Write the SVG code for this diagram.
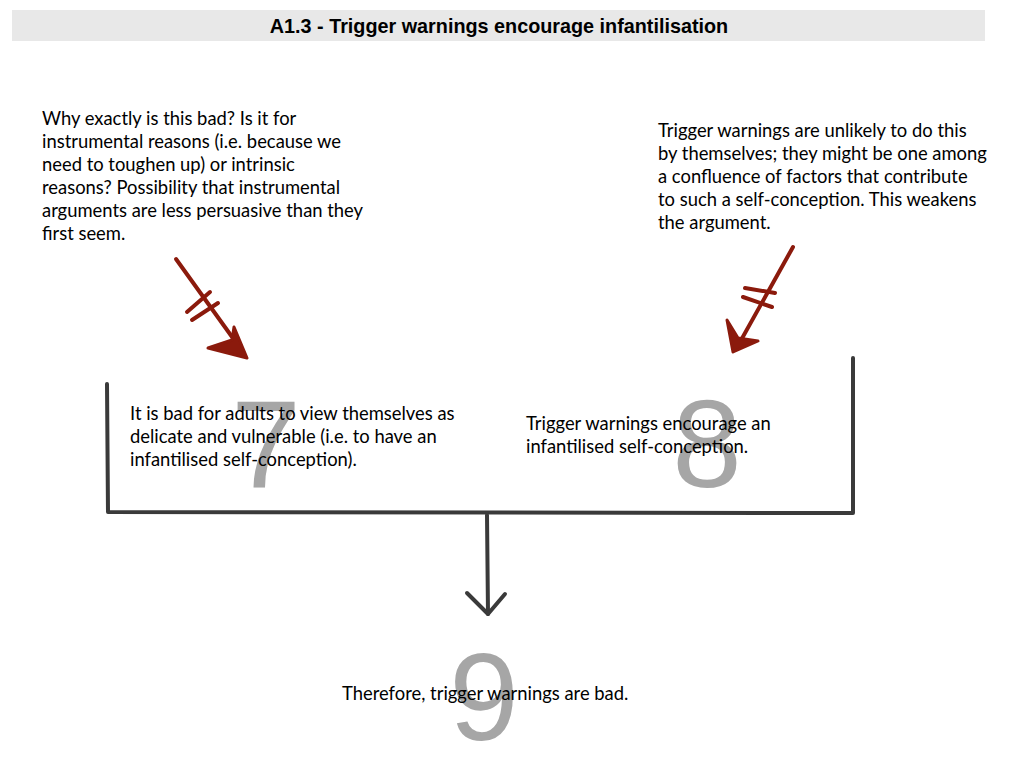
<svg xmlns="http://www.w3.org/2000/svg" width="1024" height="768" viewBox="0 0 1024 768">
<defs>
<style>
.t{font-family:"Lato","Open Sans",sans-serif;font-size:18.4px;fill:#000}
.n{font-family:"Liberation Sans",Arial,sans-serif;font-size:125px;fill:#a6a6a6;text-anchor:middle}
.r{stroke:#8b1a0c;stroke-width:4;fill:none;stroke-linecap:round;stroke-linejoin:round}
.rf{stroke:#8b1a0c;stroke-width:3;fill:#8b1a0c;stroke-linejoin:round}
.k{stroke:#3a3a3a;stroke-width:4;fill:none;stroke-linecap:round;stroke-linejoin:round}
</style>
</defs>
<rect width="1024" height="768" fill="#fff"/>
<g id="title">
<rect x="12" y="10" width="973" height="31" fill="#e8e8e8"/>
<text x="499" y="33" text-anchor="middle" style="font-family:'Liberation Sans',Arial,sans-serif;font-size:19.8px;font-weight:bold">A1.3 - Trigger warnings encourage infantilisation</text>
</g>
<g id="objection1">
<text class="t"><tspan x="42" y="125">Why exactly is this bad? Is it for</tspan><tspan x="42" y="148">instrumental reasons (i.e. because we</tspan><tspan x="42" y="171">need to toughen up) or intrinsic</tspan><tspan x="42" y="194">reasons? Possibility that instrumental</tspan><tspan x="42" y="217">arguments are less persuasive than they</tspan><tspan x="42" y="240">first seem.</tspan></text>
</g>
<g id="objection2">
<text class="t"><tspan x="658" y="137">Trigger warnings are unlikely to do this</tspan><tspan x="658" y="160">by themselves; they might be one among</tspan><tspan x="658" y="183">a confluence of factors that contribute</tspan><tspan x="658" y="206">to such a self-conception. This weakens</tspan><tspan x="658" y="229">the argument.</tspan></text>
</g>
<g id="p7">
<text class="n" x="266" y="487">7</text>
<text class="t"><tspan x="130" y="420">It is bad for adults to view themselves as</tspan><tspan x="130" y="443">delicate and vulnerable (i.e. to have an</tspan><tspan x="130" y="466">infantilised self-conception).</tspan></text>
</g>
<g id="p8">
<text class="n" x="707" y="487">8</text>
<text class="t"><tspan x="526" y="430">Trigger warnings encourage an</tspan><tspan x="526" y="453">infantilised self-conception.</tspan></text>
</g>
<g id="p9">
<text class="n" x="484" y="740">9</text>
<text class="t" x="342" y="700">Therefore, trigger warnings are bad.</text>
</g>
<g id="connectors">
<path class="k" d="M107 384 L108 512 L853 513 L853 358"/>
<path class="k" d="M487 515 L488 614"/>
<path class="k" d="M467 593 L488 614 L505 594"/>
<path class="r" d="M176 259 L240 348"/>
<path class="rf" d="M234 327 L247 358 L208 348 L232 340 Z"/>
<path class="r" d="M187 312 L210 292 M192 320 L218 303"/>
<path class="r" d="M793 247 L740 342"/>
<path class="rf" d="M727 320 L733 352 L758 341 L738 338 Z"/>
<path class="r" d="M745 288 L775 293 M743 297 L772 307"/>
</g>
</svg>
